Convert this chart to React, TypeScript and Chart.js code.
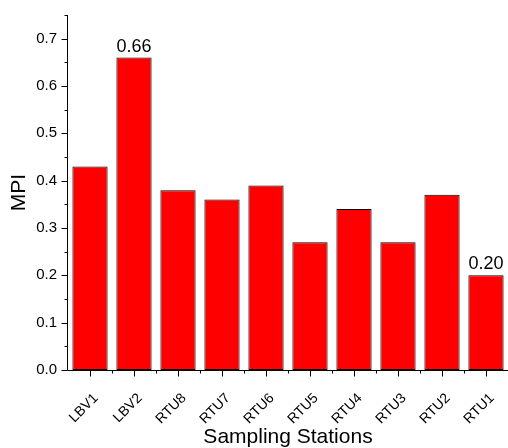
import React, { useEffect, useRef } from "react";
import { Chart, registerables } from "chart.js";

Chart.register(...registerables);

const categories = ["LBV1", "LBV2", "RTU8", "RTU7", "RTU6", "RTU5", "RTU4", "RTU3", "RTU2", "RTU1"];
const mpiValues = [0.43, 0.66, 0.38, 0.36, 0.39, 0.27, 0.34, 0.27, 0.37, 0.2];
const labelledIndices = [1, 9];
const yTickValues = [0, 0.1, 0.2, 0.3, 0.4, 0.5, 0.6, 0.7];
const yMinorValues = [0.05, 0.15, 0.25, 0.35, 0.45, 0.55, 0.65, 0.75];
const Y_MAX = 0.75;

const FONT = "Arial, 'Liberation Sans', sans-serif";

const axesPlugin = {
  id: "customAxes",
  afterDraw(chart: any) {
    const ctx = chart.ctx;
    const area = chart.chartArea;
    const xs = chart.scales.x;
    const ys = chart.scales.y;
    ctx.save();
    ctx.strokeStyle = "#000";
    ctx.lineWidth = 1;
    ctx.beginPath();
    const ax = Math.round(area.left) - 0.5;
    const ay = Math.round(area.bottom) + 0.5;
    ctx.moveTo(ax, Math.round(area.top));
    ctx.lineTo(ax, ay);
    ctx.moveTo(ax, ay);
    ctx.lineTo(Math.round(area.right), ay);
    yTickValues.forEach((v) => {
      const py = Math.round(ys.getPixelForValue(v)) + 0.5;
      ctx.moveTo(ax - 6, py);
      ctx.lineTo(ax, py);
    });
    yMinorValues.forEach((v) => {
      const py = Math.round(ys.getPixelForValue(v)) + 0.5;
      ctx.moveTo(ax - 3, py);
      ctx.lineTo(ax, py);
    });
    categories.forEach((_, i) => {
      const px = Math.round(xs.getPixelForValue(i)) + 0.5;
      ctx.moveTo(px, ay);
      ctx.lineTo(px, ay + 6);
    });
    for (let i = 1; i < categories.length; i++) {
      const px = Math.round((xs.getPixelForValue(i - 1) + xs.getPixelForValue(i)) / 2) + 0.5;
      ctx.moveTo(px, ay);
      ctx.lineTo(px, ay + 3);
    }
    ctx.stroke();

    const meta = chart.getDatasetMeta(0);
    ctx.fillStyle = "#000";
    ctx.font = `18px ${FONT}`;
    ctx.textAlign = "center";
    ctx.textBaseline = "alphabetic";
    labelledIndices.forEach((i) => {
      const bar = meta.data[i];
      ctx.fillText(mpiValues[i].toFixed(2), bar.x, bar.y - 6);
    });
    ctx.restore();
  },
};

const zeroPad = (scale: any) => {
  scale.paddingTop = 0;
  scale.paddingBottom = 0;
  scale.paddingLeft = 0;
  scale.paddingRight = 0;
};

export default function App() {
  const ref = useRef<HTMLCanvasElement | null>(null);
  useEffect(() => {
    if (!ref.current) return;
    const chart = new Chart(ref.current, {
      type: "bar",
      data: {
        labels: categories,
        datasets: [
          {
            data: mpiValues,
            backgroundColor: "#ff0000",
            borderColor: "#000000",
            borderWidth: 1,
            borderSkipped: false,
            barPercentage: 0.8,
            categoryPercentage: 1,
          },
        ],
      },
      options: {
        animation: false,
        responsive: false,
        maintainAspectRatio: false,
        layout: { padding: { top: 15, right: 0, left: 0, bottom: 0 } },
        plugins: {
          legend: { display: false },
          tooltip: { enabled: false },
        },
        scales: {
          x: {
            grid: { display: false, drawTicks: false },
            border: { display: false },
            ticks: {
              minRotation: 45,
              maxRotation: 45,
              autoSkip: false,
              padding: 20,
              labelOffset: 6,
              color: "#000",
              font: { family: FONT, size: 14 },
            },
            title: {
              display: true,
              text: "Sampling Stations",
              color: "#000",
              padding: 0,
              font: { family: FONT, size: 21, lineHeight: 1 },
            },
            afterFit: (scale: any) => {
              scale.height = 78;
              zeroPad(scale);
            },
          },
          y: {
            min: 0,
            max: Y_MAX,
            grid: { display: false, drawTicks: false },
            border: { display: false },
            afterBuildTicks: (scale: any) => {
              scale.ticks = yTickValues.map((v) => ({ value: v }));
            },
            ticks: {
              padding: 11,
              color: "#000",
              font: { family: FONT, size: 15 },
              callback: (v: any) => Number(v).toFixed(1),
            },
            title: {
              display: true,
              text: "MPI",
              color: "#000",
              padding: { top: 9, bottom: 0 },
              font: { family: FONT, size: 21, lineHeight: 1 },
            },
            afterFit: (scale: any) => {
              scale.width = 68;
              zeroPad(scale);
            },
          },
        },
      },
      plugins: [axesPlugin],
    });
    return () => chart.destroy();
  }, []);
  return (
    <div style={{ position: "absolute", left: 0, top: 0, width: 508, height: 448 }}>
      <canvas ref={ref} width={508} height={448} style={{ width: 508, height: 448 }} />
    </div>
  );
}
